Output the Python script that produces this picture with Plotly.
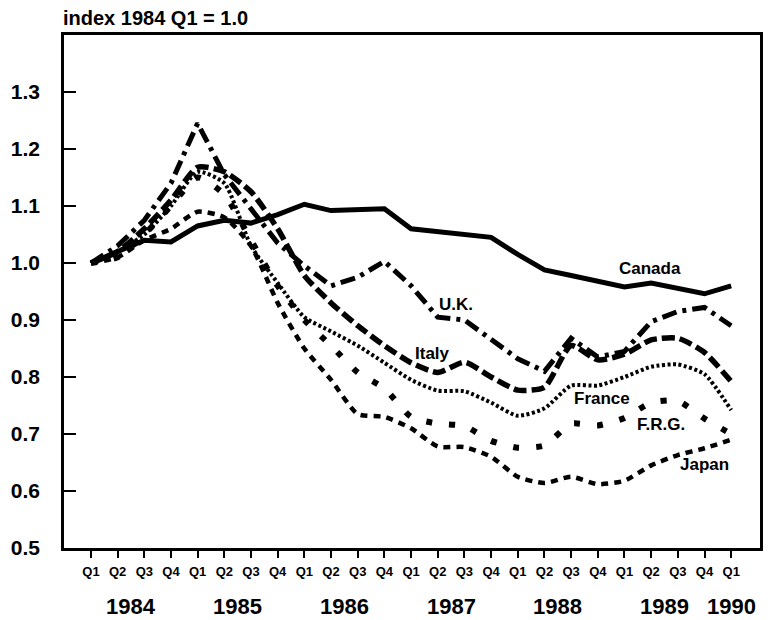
import plotly.graph_objects as go

# ---- data ----
quarters = ["Q1", "Q2", "Q3", "Q4"] * 6 + ["Q1"]
years = ["1984", "1985", "1986", "1987", "1988", "1989", "1990"]

canada = [1.000, 1.020, 1.040, 1.037, 1.065, 1.075, 1.070, 1.085, 1.103, 1.092, 1.093, 1.095,
          1.060, 1.055, 1.050, 1.045, 1.015, 0.988, 0.978, 0.968, 0.958, 0.965, 0.955, 0.946, 0.960]
uk = [1.000, 1.030, 1.075, 1.140, 1.245, 1.155, 1.095, 1.035, 0.995, 0.960, 0.975, 1.003,
      0.960, 0.905, 0.900, 0.865, 0.832, 0.810, 0.868, 0.835, 0.845, 0.897, 0.915, 0.922, 0.890]
italy = [1.000, 1.020, 1.060, 1.110, 1.168, 1.160, 1.125, 1.060, 0.978, 0.930, 0.890, 0.855,
         0.825, 0.808, 0.826, 0.800, 0.777, 0.782, 0.855, 0.830, 0.840, 0.865, 0.868, 0.843, 0.792]
france = [1.000, 1.020, 1.050, 1.100, 1.160, 1.140, 1.030, 0.965, 0.905, 0.880, 0.855, 0.825,
          0.795, 0.776, 0.775, 0.755, 0.732, 0.745, 0.785, 0.785, 0.800, 0.818, 0.822, 0.805, 0.742]
frg = [1.000, 1.010, 1.050, 1.100, 1.150, 1.120, 1.040, 0.960, 0.900, 0.855, 0.808, 0.780,
       0.730, 0.718, 0.714, 0.688, 0.676, 0.680, 0.718, 0.715, 0.728, 0.755, 0.758, 0.727, 0.700]
japan = [1.000, 1.010, 1.040, 1.060, 1.090, 1.080, 1.030, 0.930, 0.850, 0.795, 0.735, 0.730,
         0.710, 0.678, 0.677, 0.660, 0.625, 0.614, 0.625, 0.612, 0.618, 0.645, 0.663, 0.675, 0.690]

# label anchor positions (quarter index, index value)
series_labels = ["Canada", "U.K.", "Italy", "France", "F.R.G.", "Japan"]
label_x = [20.96, 13.7, 12.8, 19.15, 21.35, 23.0]
label_y = [0.991, 0.928, 0.842, 0.763, 0.716, 0.647]

FONT = "Liberation Sans, Arial, Helvetica, sans-serif"
x = list(range(len(quarters)))

fig = go.Figure()

styles = [
    (canada, dict(width=5, dash="solid"), "linear"),
    (uk, dict(width=5, dash="15px,6px,4px,6px"), "linear"),
    (italy, dict(width=5.5, dash="13px,5px"), "spline"),
    (france, dict(width=4, dash="3px,2.5px"), "spline"),
    (frg, dict(width=6, dash="6px,17px"), "spline"),
    (japan, dict(width=4.5, dash="7px,6px"), "spline"),
]
for (vals, ln, shape), name in zip(styles, series_labels):
    fig.add_trace(go.Scatter(
        x=x, y=vals, mode="lines", name=name,
        line=dict(color="black", shape=shape, smoothing=0.6, **ln),
        showlegend=False,
    ))

# series labels
for name, lx, ly in zip(series_labels, label_x, label_y):
    fig.add_annotation(x=lx, y=ly, xref="x", yref="y", text=name, showarrow=False,
                       font=dict(family=FONT, size=17, color="black", weight="bold"),
                       xanchor="center", yanchor="middle")

# year labels
year_pos = [4 * k + 1.5 for k in range(len(years) - 1)] + [len(quarters) - 1]
for yr, xp in zip(years, year_pos):
    fig.add_annotation(x=xp, y=-0.115, xref="x", yref="paper", text=yr, showarrow=False,
                       font=dict(family=FONT, size=22, color="black", weight="bold"),
                       xanchor="center", yanchor="middle")

# title
fig.add_annotation(x=-0.004, y=1.033, xref="paper", yref="paper", text="index 1984 Q1 = 1.0",
                   showarrow=False, xanchor="left", yanchor="middle",
                   font=dict(family=FONT, size=20, color="black", weight="bold"))

# the page body adds an 8px margin, so the figure is 8px smaller and margins shifted
fig.update_layout(
    width=765, height=612,
    margin=dict(l=56, r=13, t=27, b=72, autoexpand=False),
    plot_bgcolor="white", paper_bgcolor="white",
    xaxis=dict(
        range=[-1.01, 25.08], tickmode="array", tickvals=x, ticktext=quarters,
        ticks="outside", ticklen=7, tickwidth=2, tickcolor="black",
        showgrid=False, zeroline=False, automargin=False,
        showline=True, linecolor="black", linewidth=2.5, mirror=True,
        tickfont=dict(family=FONT, size=13, color="black", weight="bold"),
        ticklabelstandoff=3,
    ),
    yaxis=dict(
        range=[0.5, 1.4], tickmode="array",
        tickvals=[0.5, 0.6, 0.7, 0.8, 0.9, 1.0, 1.1, 1.2, 1.3],
        ticktext=["0.5", "0.6", "0.7", "0.8", "0.9", "1.0", "1.1", "1.2", "1.3"],
        ticks="inside", ticklen=12, tickwidth=2, tickcolor="black",
        showgrid=False, zeroline=False, automargin=False,
        showline=True, linecolor="black", linewidth=2.5, mirror=True,
        tickfont=dict(family=FONT, size=21, color="black", weight="bold"),
        ticklabelstandoff=17,
    ),
)

fig.write_html("out.html")
